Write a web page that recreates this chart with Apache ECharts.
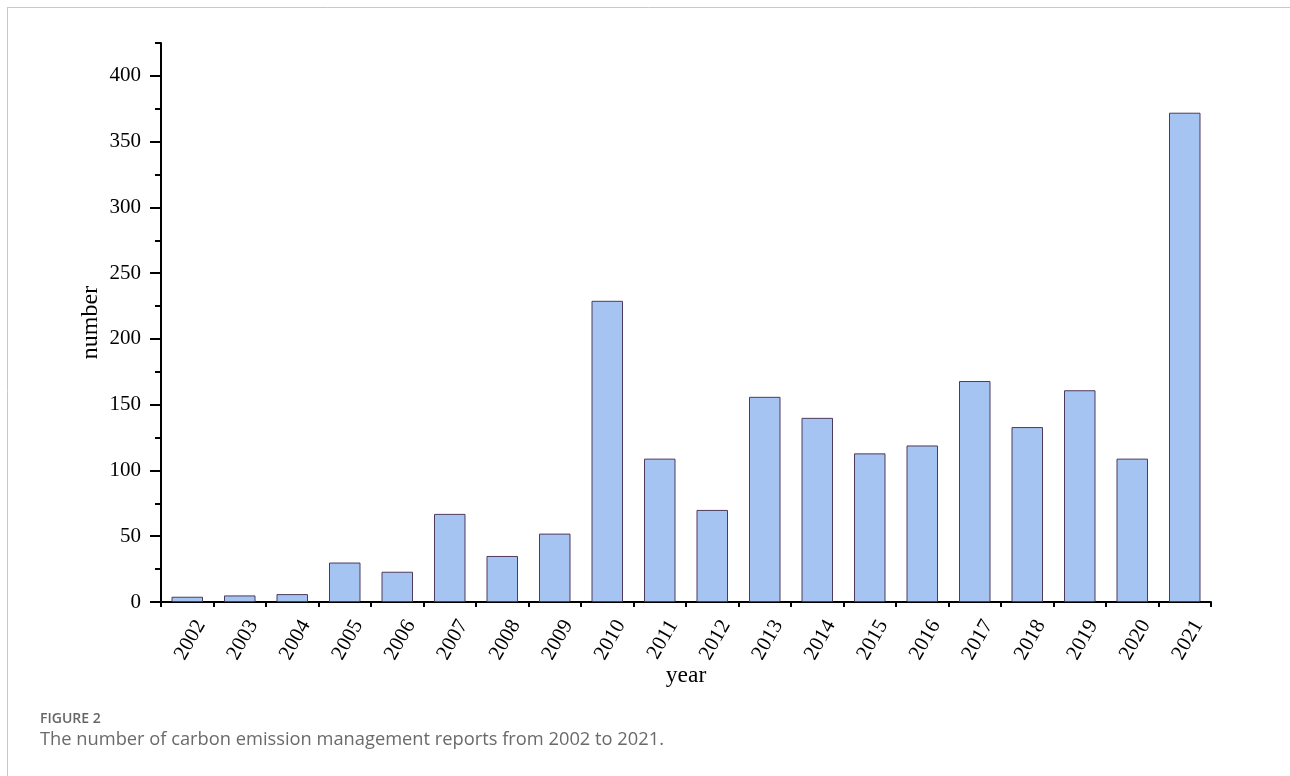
<!DOCTYPE html>
<html>
<head>
<meta charset="utf-8">
<script src="https://cdn.jsdelivr.net/npm/echarts@6/dist/echarts.min.js"></script>
<style>
html,body{margin:0;padding:0;background:#fff;}
#c{width:1290px;height:776px;}
</style>
</head>
<body>
<div id="c"></div>
<script>
var years = ['2002','2003','2004','2005','2006','2007','2008','2009','2010','2011','2012','2013','2014','2015','2016','2017','2018','2019','2020','2021'];
var counts = [4, 5, 6, 30, 23, 67, 35, 52, 229, 109, 70, 156, 140, 113, 119, 168, 133, 161, 109, 372];
var yMajorTicks = [0, 50, 100, 150, 200, 250, 300, 350, 400];
var yMax = 425;
var figureLabel = 'FIGURE 2';
var captionText = 'The number of carbon emission management reports from 2002 to 2021.';

var serif = '"Liberation Serif", "Times New Roman", serif';
var chart = echarts.init(document.getElementById('c'), null, {renderer: 'canvas'});
chart.setOption({
  backgroundColor: '#fff',
  animation: false,
  grid: {left: 161, right: 79, top: 43, bottom: 174, containLabel: false},
  xAxis: [{
    type: 'category', data: years, position: 'bottom',
    name: 'year', nameLocation: 'middle', nameGap: 62, nameMoveOverlap: false,
    nameTextStyle: {fontFamily: serif, fontSize: 23.5, color: '#000'},
    axisLine: {lineStyle: {color: '#000', width: 2}},
    axisTick: {alignWithLabel: true, length: 11, lineStyle: {color: '#000', width: 2}},
    axisLabel: {rotate: 60, fontFamily: serif, fontSize: 21, color: '#000', margin: 12, interval: 0,
                verticalAlign: 'top', padding: [5, 0, 0, 0]}
  }, {
    type: 'category', data: years, position: 'bottom',
    axisLine: {show: false},
    axisTick: {show: true, length: 5, lineStyle: {color: '#000', width: 2}},
    axisLabel: {show: false}
  }],
  yAxis: [{
    type: 'value', min: 0, max: yMax, position: 'left',
    name: 'number', nameLocation: 'middle', nameGap: 58, nameMoveOverlap: false,
    nameTextStyle: {fontFamily: serif, fontSize: 24, color: '#000'},
    axisLine: {show: true, lineStyle: {color: '#000', width: 2}},
    axisTick: {show: true, length: 11, customValues: yMajorTicks, lineStyle: {color: '#000', width: 2}},
    axisLabel: {customValues: yMajorTicks, fontFamily: serif, fontSize: 21, color: '#000', margin: 20},
    splitLine: {show: false}
  }, {
    type: 'value', min: 0, max: yMax, interval: 25, position: 'left',
    axisLine: {show: false},
    axisTick: {show: true, length: 6, lineStyle: {color: '#000', width: 2}},
    axisLabel: {show: false},
    splitLine: {show: false}
  }],
  series: [{
    type: 'bar', data: counts, xAxisIndex: 0, yAxisIndex: 0,
    barWidth: '60%',
    itemStyle: {color: '#a6c4f2', borderColor: '#4e3a5c', borderWidth: 1}
  }],
  graphic: [
    {type: 'line', shape: {x1: 7, y1: 7.5, x2: 1290, y2: 7.5}, style: {stroke: '#c8c8c8', lineWidth: 1}},
    {type: 'line', shape: {x1: 7.5, y1: 7, x2: 7.5, y2: 776}, style: {stroke: '#c8c8c8', lineWidth: 1}},
    {type: 'text', left: 40, top: 712, style: {text: figureLabel, fontFamily: '"Open Sans", sans-serif', fontSize: 14, fontWeight: 600, fill: '#666'}},
    {type: 'text', left: 40, top: 731, style: {text: captionText, fontFamily: '"Open Sans", sans-serif', fontSize: 18.3, fill: '#6a6a6a'}}
  ]
});
</script>
</body>
</html>
